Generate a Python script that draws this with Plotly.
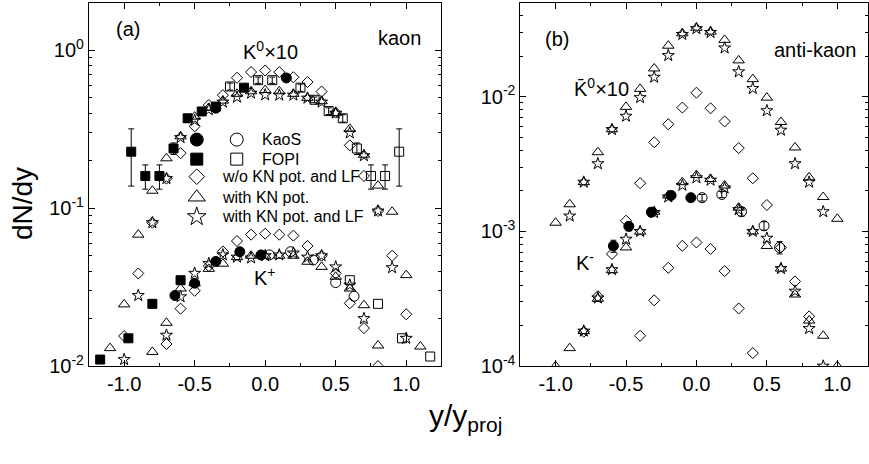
import plotly.graph_objects as go

W, H = 869, 464
FONT = "Arial, Liberation Sans, sans-serif"

# ---------------- panel (a): kaons ----------------
# K0 x10, transport model without KN potential and LF
xa_k0_wo = [-1.0, -0.9, -0.8, -0.7, -0.6, -0.5, -0.4, -0.3, -0.2, -0.1, 0.0,
            0.1, 0.2, 0.3, 0.4, 0.5, 0.6, 0.7, 0.8, 0.9, 1.0]
ya_k0_wo = [0.0155, 0.0386, 0.081, 0.154, 0.223, 0.33, 0.45, 0.52, 0.67, 0.728, 0.745,
            0.728, 0.675, 0.63, 0.548, 0.403, 0.25, 0.16, 0.096, 0.05, 0.0213]
# K0 x10, with KN potential
xa_k0_pot = [-1.1, -1.0, -0.9, -0.8, -0.7, -0.6, -0.5, -0.4, -0.3, -0.2, -0.1, 0.0,
             0.1, 0.2, 0.3, 0.4, 0.5, 0.6, 0.7, 0.8, 0.9, 1.0, 1.1]
ya_k0_pot = [0.013, 0.0246, 0.068, 0.129, 0.207, 0.285, 0.38, 0.432, 0.48, 0.53, 0.55, 0.56,
             0.55, 0.53, 0.50, 0.476, 0.40, 0.318, 0.218, 0.139, 0.095, 0.0377, 0.0133]
# K0 x10, with KN potential and LF
xa_k0_lf = [-1.0, -0.9, -0.8, -0.7, -0.6, -0.5, -0.4, -0.3, -0.2, -0.1, 0.0,
            0.1, 0.2, 0.3, 0.4, 0.5, 0.6, 0.7, 0.8, 0.9, 1.0]
ya_k0_lf = [0.011, 0.028, 0.081, 0.154, 0.28, 0.36, 0.42, 0.47, 0.505, 0.535, 0.522,
            0.52, 0.52, 0.498, 0.47, 0.40, 0.30, 0.215, 0.096, 0.042, 0.015]
# FOPI K0 x10 (measured / reflected)
xa_k0_fopi = [-0.95, -0.85, -0.75, -0.65, -0.55, -0.45, -0.35, -0.15]
ya_k0_fopi = [0.228, 0.16, 0.16, 0.239, 0.371, 0.41, 0.44, 0.58]
ea_k0_fopi = [0.09, 0.028, 0.028, 0.02, 0.02, 0.02, 0.02, 0.02]
xa_k0_fopi_r = [-0.25, -0.05, 0.05, 0.25, 0.35, 0.45, 0.55, 0.65, 0.75, 0.85, 0.95]
ya_k0_fopi_r = [0.59, 0.647, 0.647, 0.58, 0.486, 0.412, 0.371, 0.239, 0.16, 0.16, 0.228]
ea_k0_fopi_r = [0.03, 0.03, 0.03, 0.03, 0.02, 0.02, 0.02, 0.02, 0.028, 0.028, 0.09]
# KaoS K0 x10
xa_k0_kaos = [-0.35, 0.15]
ya_k0_kaos = [0.43, 0.668]

# K+, transport model variants
xa_kp_wo = [-0.7, -0.6, -0.5, -0.4, -0.3, -0.2, -0.1, 0.0, 0.1, 0.2, 0.3, 0.4, 0.5, 0.6, 0.7, 0.8]
ya_kp_wo = [0.0138, 0.0231, 0.030, 0.043, 0.0532, 0.062, 0.068, 0.069, 0.068, 0.067, 0.0577,
            0.050, 0.0386, 0.025, 0.0174, 0.010]
xa_kp_pot = [-0.8, -0.7, -0.6, -0.5, -0.4, -0.3, -0.2, -0.1, 0.0, 0.1, 0.2, 0.3, 0.4, 0.5, 0.6, 0.7, 0.8]
ya_kp_pot = [0.0123, 0.0188, 0.031, 0.0335, 0.0413, 0.0445, 0.049, 0.050, 0.050, 0.050, 0.050,
             0.0458, 0.0425, 0.0368, 0.031, 0.0243, 0.0135]
xa_kp_lf = [-0.7, -0.6, -0.5, -0.4, -0.3, -0.2, -0.1, 0.0, 0.1, 0.2, 0.3, 0.4, 0.5, 0.6, 0.7]
ya_kp_lf = [0.0157, 0.0275, 0.0387, 0.0446, 0.0506, 0.049, 0.0484, 0.050, 0.0506, 0.052, 0.049,
            0.050, 0.0425, 0.0326, 0.020]
# KaoS K+ (measured / reflected)
xa_kp_kaos = [-0.64, -0.50, -0.35, -0.18, -0.03]
ya_kp_kaos = [0.028, 0.0335, 0.046, 0.053, 0.0506]
xa_kp_kaos_r = [0.03, 0.18, 0.34, 0.50, 0.63]
ya_kp_kaos_r = [0.0506, 0.053, 0.047, 0.0338, 0.0277]
# FOPI K+ (measured / reflected)
xa_kp_fopi = [-1.17, -0.97, -0.80, -0.60]
ya_kp_fopi = [0.011, 0.015, 0.0248, 0.035]
xa_kp_fopi_r = [0.60, 0.80, 0.97, 1.17]
ya_kp_fopi_r = [0.035, 0.0248, 0.015, 0.0115]

# ---------------- panel (b): anti-kaons ----------------
xb_ak0_pot = [-1.0, -0.9, -0.8, -0.7, -0.6, -0.5, -0.4, -0.3, -0.2, -0.1, 0.0,
              0.1, 0.2, 0.3, 0.4, 0.5, 0.6, 0.7, 0.8, 0.9, 1.0]
yb_ak0_pot = [0.00116, 0.00159, 0.00232, 0.00387, 0.00573, 0.0084, 0.01143, 0.0162, 0.0239, 0.0295,
              0.0325, 0.0304, 0.0264, 0.0186, 0.0135, 0.00984, 0.00649, 0.0042, 0.00252, 0.0018, 0.00124]
xb_ak0_lf = [-0.9, -0.8, -0.7, -0.6, -0.5, -0.4, -0.3, -0.2, -0.1, 0.0,
             0.1, 0.2, 0.3, 0.4, 0.5, 0.6, 0.7, 0.8, 0.9]
yb_ak0_lf = [0.0013, 0.00232, 0.00318, 0.0057, 0.00716, 0.00984, 0.01396, 0.0202, 0.029, 0.032,
             0.030, 0.023, 0.0153, 0.0115, 0.00787, 0.00564, 0.00318, 0.00232, 0.0014]
xb_ak0_wo = [-0.8, -0.7, -0.6, -0.5, -0.4, -0.3, -0.2, -0.1, 0.0, 0.1, 0.2, 0.3, 0.4, 0.5, 0.6, 0.7, 0.8]
yb_ak0_wo = [0.00018, 0.00033, 0.00068, 0.0012, 0.00228, 0.00459, 0.00624, 0.0083, 0.0107, 0.0082,
             0.00655, 0.00415, 0.00248, 0.00157, 0.00076, 0.000425, 0.000234]

xb_km_pot = [-1.0, -0.9, -0.8, -0.7, -0.6, -0.5, -0.4, -0.3, -0.2, -0.1, 0.0,
             0.1, 0.2, 0.3, 0.4, 0.5, 0.6, 0.7, 0.8, 0.9, 1.0]
yb_km_pot = [0.0001, 0.000136, 0.000182, 0.000316, 0.000515, 0.00076, 0.000996, 0.0014, 0.00185,
             0.00232, 0.00262, 0.00245, 0.00219, 0.0015, 0.001, 0.00078, 0.00053, 0.00034,
             0.000218, 0.000168, 0.0001]
xb_km_lf = [-0.8, -0.7, -0.6, -0.5, -0.4, -0.3, -0.2, -0.1, 0.0, 0.1, 0.2, 0.3, 0.4, 0.5, 0.6,
            0.7, 0.8, 0.9]
yb_km_lf = [0.000182, 0.00032, 0.00052, 0.000875, 0.001, 0.00138, 0.0018, 0.0022, 0.0025, 0.0024,
            0.0021, 0.00145, 0.001, 0.00089, 0.00053, 0.00036, 0.00019, 0.0001]
xb_km_wo = [-0.4, -0.3, -0.2, -0.1, 0.0, 0.1, 0.2, 0.3, 0.4]
yb_km_wo = [0.000168, 0.000308, 0.000537, 0.000782, 0.000828, 0.000741, 0.000507, 0.000268, 0.000125]

# KaoS K- (measured / reflected)
xb_km_kaos = [-0.59, -0.48, -0.32, -0.18, -0.04]
yb_km_kaos = [0.00078, 0.00109, 0.00139, 0.00185, 0.00178]
eb_km_kaos = [0.00008, 0.00008, 0.0001, 0.0001, 0.0001]
xb_km_kaos_r = [0.04, 0.18, 0.32, 0.48, 0.59]
yb_km_kaos_r = [0.00178, 0.00188, 0.0014, 0.0011, 0.00076]
eb_km_kaos_r = [0.0001, 0.0001, 0.0001, 0.00008, 0.00008]

# tick labels
x_tickvals = [-1.0, -0.5, 0.0, 0.5, 1.0]
x_ticktext = ["-1.0", "-0.5", "0.0", "0.5", "1.0"]
ya_tickvals = [0.01, 0.1, 1.0]
ya_ticktext = ["10<sup>-2</sup>", "10<sup>-1</sup>", "10<sup>0</sup>"]
yb_tickvals = [0.0001, 0.001, 0.01]
yb_ticktext = ["10<sup>-4</sup>", "10<sup>-3</sup>", "10<sup>-2</sup>"]

# legend entries
legend_labels = ["KaoS", "FOPI", "w/o KN pot. and LF", "with KN pot.", "with KN pot. and LF"]


def pap(px, py):
    return px / W, 1 - py / H


def log_minor(lo, hi):
    vals = []
    for e in range(lo, hi + 1):
        for m in range(2, 10):
            vals.append(m * 10.0 ** e)
    return vals


fig = go.Figure()

STY = {
    "wo": dict(symbol="diamond-open", size=8.5),
    "pot": dict(symbol="triangle-up-open", size=10),
    "lf": dict(symbol="star-open", size=9),
    "circ": dict(symbol="circle", size=10),
    "circ_o": dict(symbol="circle-open", size=10),
    "sq": dict(symbol="square", size=9),
    "sq_o": dict(symbol="square-open", size=9),
}


def add(x, y, sty, xa="x", ya="y", err=None):
    m = dict(color="black", line=dict(color="black", width=1), **STY[sty])
    kw = {}
    if err is not None:
        kw["error_y"] = dict(type="data", array=err, visible=True, color="black",
                             thickness=1, width=3)
    fig.add_trace(go.Scatter(x=x, y=y, mode="markers", marker=m, xaxis=xa, yaxis=ya,
                             showlegend=False, hoverinfo="skip", **kw))


# panel (a)
add(xa_k0_wo, ya_k0_wo, "wo")
add(xa_k0_pot, ya_k0_pot, "pot")
add(xa_k0_lf, ya_k0_lf, "lf")
add(xa_kp_wo, ya_kp_wo, "wo")
add(xa_kp_pot, ya_kp_pot, "pot")
add(xa_kp_lf, ya_kp_lf, "lf")
add(xa_k0_fopi, ya_k0_fopi, "sq", err=ea_k0_fopi)
add(xa_k0_fopi_r, ya_k0_fopi_r, "sq_o", err=ea_k0_fopi_r)
add(xa_k0_kaos, ya_k0_kaos, "circ")
add(xa_kp_fopi, ya_kp_fopi, "sq")
add(xa_kp_fopi_r, ya_kp_fopi_r, "sq_o")
add(xa_kp_kaos, ya_kp_kaos, "circ")
add(xa_kp_kaos_r, ya_kp_kaos_r, "circ_o")

# panel (b)
add(xb_ak0_pot, yb_ak0_pot, "pot", "x2", "y2")
add(xb_ak0_lf, yb_ak0_lf, "lf", "x2", "y2")
add(xb_ak0_wo, yb_ak0_wo, "wo", "x2", "y2")
add(xb_km_pot, yb_km_pot, "pot", "x2", "y2")
add(xb_km_lf, yb_km_lf, "lf", "x2", "y2")
add(xb_km_wo, yb_km_wo, "wo", "x2", "y2")
add(xb_km_kaos, yb_km_kaos, "circ", "x2", "y2", err=eb_km_kaos)
add(xb_km_kaos_r, yb_km_kaos_r, "circ_o", "x2", "y2", err=eb_km_kaos_r)

# legend key symbols, placed on a pixel-scaled overlay axis
key_rows = [143, 163, 181, 202, 222]
key_syms = [("circle", "circle-open", 13), ("square", "square-open", 12),
            ("diamond-open", None, 12), ("triangle-up-open", None, 15), ("star-open", None, 14)]
for row, (s1, s2, sz) in zip(key_rows, key_syms):
    fig.add_trace(go.Scatter(x=[197], y=[row], mode="markers", xaxis="x3", yaxis="y3",
                             marker=dict(symbol=s1, size=sz, color="black",
                                         line=dict(color="black", width=1)),
                             showlegend=False, hoverinfo="skip"))
    if s2:
        fig.add_trace(go.Scatter(x=[237], y=[row], mode="markers", xaxis="x3", yaxis="y3",
                                 marker=dict(symbol=s2, size=sz, color="black",
                                             line=dict(color="black", width=1)),
                                 showlegend=False, hoverinfo="skip"))

axis_common = dict(showline=True, linecolor="black", linewidth=1, mirror="ticks",
                   ticks="inside", ticklen=6, tickcolor="black", showgrid=False,
                   zeroline=False, tickfont=dict(family=FONT, size=20, color="black"))

xdom_a = [89 / W, 442 / W]
xdom_b = [521 / W, 1.0]
ydom = [1 - 375 / H, 1 - 3 / H]

fig.update_layout(
    width=W, height=H, margin=dict(l=0, r=0, t=0, b=0),
    paper_bgcolor="white", plot_bgcolor="rgba(0,0,0,0)",
    font=dict(family=FONT, color="black"),
    xaxis=dict(domain=xdom_a, range=[-1.25, 1.25], anchor="y", tickvals=x_tickvals,
               ticktext=x_ticktext, minor=dict(ticks="inside", ticklen=3, dtick=0.25,
                                               tick0=0, tickcolor="black"), **axis_common),
    yaxis=dict(domain=ydom, type="log", range=[-2, 0.3], anchor="x", tickvals=ya_tickvals,
               ticktext=ya_ticktext, minor=dict(ticks="inside", ticklen=3, tickmode="array",
                                                tickvals=log_minor(-2, 0), tickcolor="black"),
               **axis_common),
    xaxis2=dict(domain=xdom_b, range=[-1.25, 1.218], anchor="y2", tickvals=x_tickvals,
                ticktext=x_ticktext, minor=dict(ticks="inside", ticklen=3, dtick=0.25,
                                                tick0=0, tickcolor="black"), **axis_common),
    yaxis2=dict(domain=ydom, type="log", range=[-4, -1.304], anchor="x2", tickvals=yb_tickvals,
                ticktext=yb_ticktext, minor=dict(ticks="inside", ticklen=3, tickmode="array",
                                                 tickvals=log_minor(-4, -2), tickcolor="black"),
                **axis_common),
    xaxis3=dict(domain=[0, 1], range=[0, W], visible=False, anchor="y3", fixedrange=True),
    yaxis3=dict(domain=[0, 1], range=[H, 0], visible=False, anchor="x3", fixedrange=True),
)


def text(px, py, s, size=20, xanchor="center", angle=0):
    x, y = pap(px, py)
    fig.add_annotation(x=x, y=y, xref="paper", yref="paper", text=s, showarrow=False,
                       xanchor=xanchor, yanchor="middle", textangle=angle,
                       font=dict(family=FONT, size=size, color="black"))


text(128, 30, "(a)")
text(400, 39, "kaon")
text(271, 52, "K<sup>0</sup>×10")
text(265, 283, "K<sup>+</sup>")
text(558, 40, "(b)")
text(816, 51, "anti-kaon")
text(602, 90, "K\u0304<sup>0</sup>×10")
text(586, 268, "K<sup>-</sup>")

text(260, key_rows[0], legend_labels[0], size=16, xanchor="left")
text(260, key_rows[1], legend_labels[1], size=16, xanchor="left")
text(220, key_rows[2], legend_labels[2], size=16, xanchor="left")
text(220, key_rows[3], legend_labels[3], size=16, xanchor="left")
text(220, key_rows[4], legend_labels[4], size=16, xanchor="left")

text(22, 208, "dN/dy", size=28, angle=-90)
text(466, 428, "y/y<sub>proj</sub>", size=30)

fig.write_html("out.html")
